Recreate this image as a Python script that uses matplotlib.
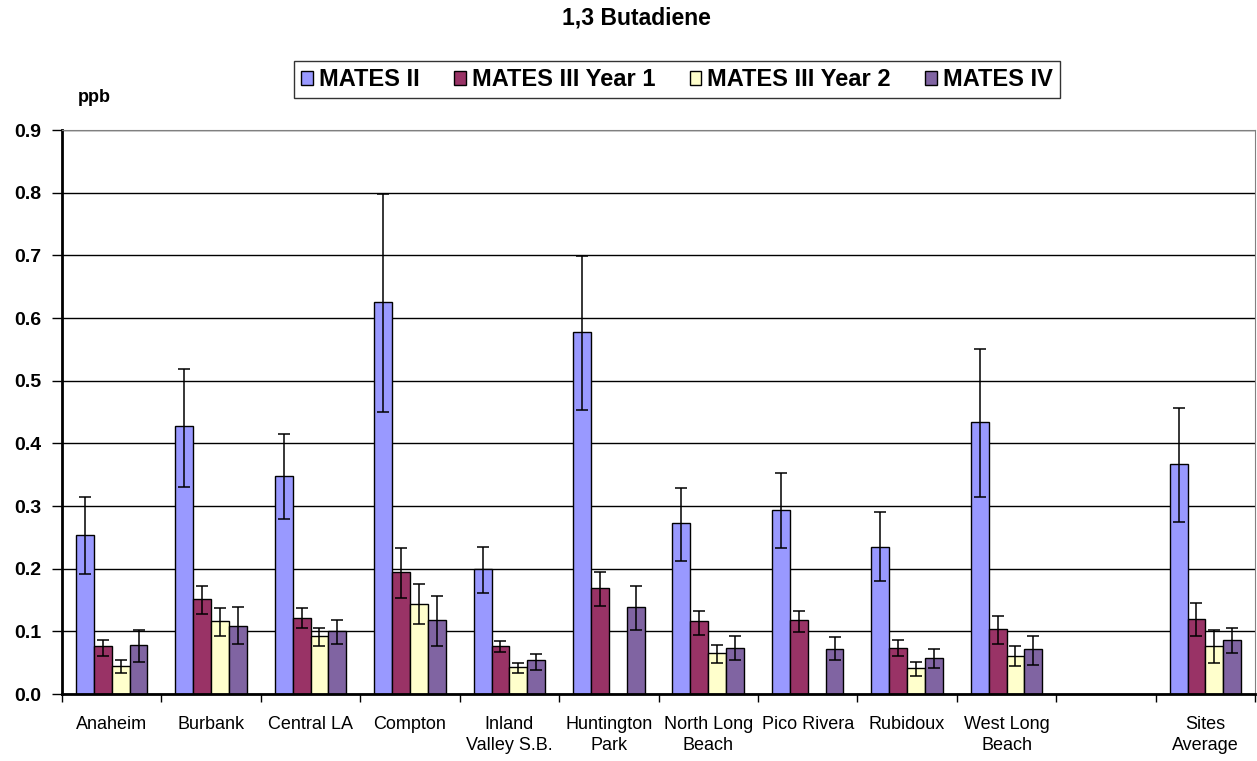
import numpy as np
import matplotlib
matplotlib.use("Agg")
import matplotlib.pyplot as plt

plt.rcParams['font.family'] = ['Liberation Sans', 'DejaVu Sans']

# site names (one empty slot before the average, as in the original)
sites = ["Anaheim", "Burbank", "Central LA", "Compton", "Inland\nValley S.B.",
         "Huntington\nPark", "North Long\nBeach", "Pico Rivera", "Rubidoux",
         "West Long\nBeach", "", "Sites\nAverage"]
series = ["MATES II", "MATES III Year 1", "MATES III Year 2", "MATES IV"]
colors = ["#9999FF", "#993366", "#FFFFCC", "#8064A2"]

nan = np.nan
# mean values (ppb)
mates2 = [0.254, 0.427, 0.348, 0.626, 0.200, 0.578, 0.273, 0.293, 0.235, 0.434, nan, 0.367]
mates3_y1 = [0.076, 0.151, 0.122, 0.195, 0.076, 0.170, 0.116, 0.118, 0.074, 0.103, nan, 0.120]
mates3_y2 = [0.044, 0.116, 0.093, 0.144, 0.043, nan, 0.066, nan, 0.041, 0.061, nan, 0.077]
mates4 = [0.078, 0.109, 0.100, 0.118, 0.054, 0.139, 0.074, 0.072, 0.058, 0.072, nan, 0.087]

# error bar ends (low / high)
mates2_lo = [0.191, 0.331, 0.280, 0.450, 0.162, 0.453, 0.212, 0.233, 0.181, 0.314, nan, 0.275]
mates2_hi = [0.314, 0.519, 0.415, 0.798, 0.235, 0.699, 0.329, 0.352, 0.290, 0.550, nan, 0.457]
mates3_y1_lo = [0.061, 0.127, 0.106, 0.153, 0.067, 0.141, 0.095, 0.099, 0.061, 0.080, nan, 0.093]
mates3_y1_hi = [0.087, 0.173, 0.137, 0.233, 0.085, 0.195, 0.133, 0.133, 0.087, 0.124, nan, 0.145]
mates3_y2_lo = [0.033, 0.093, 0.077, 0.112, 0.033, nan, 0.049, nan, 0.029, 0.044, nan, 0.049]
mates3_y2_hi = [0.055, 0.137, 0.105, 0.175, 0.049, nan, 0.078, nan, 0.051, 0.077, nan, 0.102]
mates4_lo = [0.051, 0.080, 0.080, 0.077, 0.039, 0.102, 0.054, 0.054, 0.041, 0.047, nan, 0.066]
mates4_hi = [0.102, 0.139, 0.118, 0.156, 0.064, 0.172, 0.092, 0.091, 0.072, 0.092, nan, 0.105]

values = [mates2, mates3_y1, mates3_y2, mates4]
lows = [mates2_lo, mates3_y1_lo, mates3_y2_lo, mates4_lo]
highs = [mates2_hi, mates3_y1_hi, mates3_y2_hi, mates4_hi]

fig = plt.figure(figsize=(12.57, 7.61), dpi=100)
ax = fig.add_axes([0.0493, 0.088, 0.9492, 0.741])

x = np.arange(len(sites))
w = 0.18
for i, (vals, lo, hi) in enumerate(zip(values, lows, highs)):
    v = np.array(vals)
    pos = x + (i - 1.5) * w
    ax.bar(pos, v, width=w, color=colors[i], edgecolor="black", linewidth=1.0,
           label=series[i], zorder=2)
    err = np.vstack([v - np.array(lo), np.array(hi) - v])
    ax.errorbar(pos, v, yerr=err, fmt="none", ecolor="black", elinewidth=1.1,
                capsize=4, capthick=1.1, zorder=3)

ax.set_xlim(-0.5, len(sites) - 0.5)
ax.set_ylim(0, 0.9)
yt = np.arange(0, 0.91, 0.1)
ax.set_yticks(yt)
ax.set_yticklabels([f"{t:.1f}" for t in yt], fontsize=14, fontweight="bold")
ax.yaxis.grid(True, color="black", linewidth=1.0, zorder=0)
ax.set_axisbelow(True)

# labels at category centres, tick marks at the boundaries
ax.set_xticks(x)
ax.set_xticklabels(sites, fontsize=13, linespacing=1.3, fontweight="medium")
ax.tick_params(axis="x", length=0, pad=16)
ax.set_xticks(np.arange(-0.5, len(sites), 1.0), minor=True)
ax.tick_params(axis="x", which="minor", length=6, width=1, direction="out")
ax.tick_params(axis="y", length=7, width=1, direction="out", pad=8)

ax.spines["left"].set_linewidth(2)
ax.spines["bottom"].set_linewidth(2)
ax.spines["top"].set_color("#808080")
ax.spines["right"].set_color("#808080")

fig.text(0.506, 0.976, "1,3 Butadiene", ha="center", va="center",
         fontsize=16.5, fontweight="bold")
fig.text(0.062, 0.872, "ppb", ha="left", va="center", fontsize=13, fontweight="bold")

leg = fig.legend(loc="center", bbox_to_anchor=(0.5386, 0.8955), ncol=4,
                 prop={"size": 17, "weight": "bold"}, frameon=True, fancybox=False,
                 edgecolor="black", handlelength=0.5, handleheight=0.55,
                 handletextpad=0.25, columnspacing=1.45, borderpad=0.3,
                 borderaxespad=0)
leg.get_frame().set_linewidth(1.0)

fig.savefig("out.png", dpi=100)
